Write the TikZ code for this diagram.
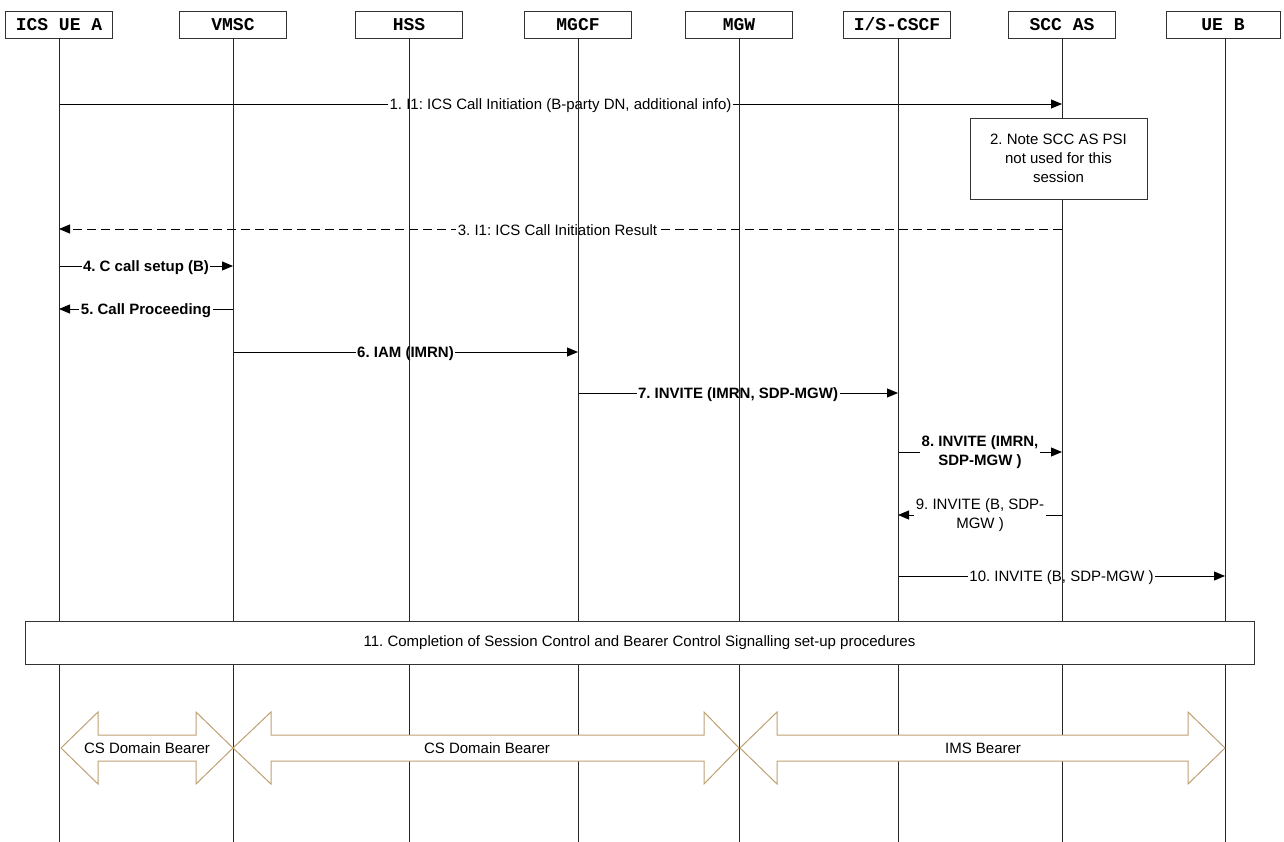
\documentclass[tikz,border=0pt]{standalone}
\usepackage{fontspec}
\setmainfont{Liberation Sans}
\newfontfamily\monob{Liberation Mono}
\usetikzlibrary{arrows.meta}
\frenchspacing
\definecolor{bearer}{RGB}{190,160,115}
\tikzset{
  hdr/.style={draw=black!80, line width=0.9pt, minimum width=107pt, minimum height=27pt, inner sep=0pt, font=\monob\bfseries\fontsize{18}{20}\selectfont, fill=white},
  life/.style={draw=black!85, line width=0.9pt},
  msg/.style={draw=black, line width=0.9pt, -{Triangle[length=11pt,width=9pt]}},
  dmsg/.style={msg, dash pattern=on 9pt off 5pt},
  lbl/.style={fill=white, inner sep=1.5pt, font=\frenchspacing\fontsize{15}{19}\selectfont, align=center},
  blbl/.style={lbl, font=\frenchspacing\bfseries\fontsize{15}{19}\selectfont},
  notebox/.style={draw=black!80, line width=0.9pt, fill=white, inner sep=0pt, align=center, font=\frenchspacing\fontsize{15}{19}\selectfont},
  bear/.style={draw=bearer, line width=1pt, fill=white},
  btxt/.style={font=\frenchspacing\fontsize{15}{16}\selectfont, inner sep=0pt}
}
\begin{document}
\begin{tikzpicture}[x=1pt,y=-1pt]
\useasboundingbox (0,0) rectangle (1284,842);
% headers
\node[hdr] (hA) at (59,24.5) {ICS UE A};
\node[hdr] (hV) at (233,24.5) {VMSC};
\node[hdr] (hH) at (409,24.5) {HSS};
\node[hdr] (hM) at (578,24.5) {MGCF};
\node[hdr] (hG) at (739,24.5) {MGW};
\node[hdr] (hI) at (897,24.5) {I/S-CSCF};
\node[hdr] (hS) at (1062,24.5) {SCC AS};
\node[hdr, minimum width=114pt] (hB) at (1223,24.5) {UE B};
% message end points
\coordinate (a1) at (59,104);  \coordinate (s1) at (1062,104);
\coordinate (s3) at (1062,229); \coordinate (a3) at (59,229);
\coordinate (a4) at (59,266);  \coordinate (v4) at (233,266);
\coordinate (v5) at (233,309); \coordinate (a5) at (59,309);
\coordinate (v6) at (233,352); \coordinate (m6) at (578,352);
\coordinate (m7) at (578,393); \coordinate (i7) at (898,393);
\coordinate (i8) at (898,452); \coordinate (s8) at (1062,452);
\coordinate (s9) at (1062,515); \coordinate (i9) at (898,515);
\coordinate (i10) at (898,576); \coordinate (b10) at (1225,576);
% messages
\draw[msg] (a1) -- node[lbl, midway, yshift=-1.5pt] {1. I1: ICS Call Initiation (B-party DN, additional info)} (s1);
\draw[dmsg] (s3) -- node[lbl, midway, xshift=-3pt, yshift=-1.5pt] {3. I1: ICS Call Initiation Result} (a3);
\draw[msg] (a4) -- node[blbl, midway, yshift=-1.5pt] {4. C call setup (B)} (v4);
\draw[msg] (v5) -- node[blbl, midway, yshift=-1.5pt] {5. Call Proceeding} (a5);
\draw[msg] (v6) -- node[blbl, midway, yshift=-1.5pt] {6. IAM (IMRN)} (m6);
\draw[msg] (m7) -- node[blbl, midway, yshift=-1.5pt] {7. INVITE (IMRN, SDP-MGW)} (i7);
\draw[msg] (i8) -- node[blbl, midway, yshift=-0.5pt] {8. INVITE (IMRN,\\SDP-MGW )} (s8);
\draw[msg] (s9) -- node[lbl, midway] {9. INVITE (B, SDP-\\MGW )} (i9);
\draw[msg] (i10) -- node[lbl, midway, yshift=-1.5pt] {10. INVITE (B, SDP-MGW )} (b10);
% lifelines
\coordinate (eA) at (59,842);  \coordinate (eV) at (233,842);
\coordinate (eH) at (409,842); \coordinate (eM) at (578,842);
\coordinate (eG) at (739,842); \coordinate (eI) at (898,842);
\coordinate (eS) at (1062,842); \coordinate (eB) at (1225,842);
\draw[life] (hA.south -| eA) -- (eA);
\draw[life] (hV.south -| eV) -- (eV);
\draw[life] (hH.south -| eH) -- (eH);
\draw[life] (hM.south -| eM) -- (eM);
\draw[life] (hG.south -| eG) -- (eG);
\draw[life] (hI.south -| eI) -- (eI);
\draw[life] (hS.south -| eS) -- (eS);
\draw[life] (hB.south -| eB) -- (eB);
% boxes
\node[notebox, minimum width=177pt, minimum height=81pt] (n2) at (1058.5,158.5) {2. Note SCC AS PSI\\not used for this\\session};
\node[notebox, minimum width=1229pt, minimum height=43pt] (n11) at (639.5,642.5) {11. Completion of Session Control and Bearer Control Signalling set-up procedures};
% bearers
\draw[bear] (61,748) -- (98,712) -- (98,735) -- (196,735) -- (196,712) -- (233,748) -- (196,784) -- (196,761) -- (98,761) -- (98,784) -- cycle;
\node[btxt] (t1) at (147,748) {CS Domain Bearer};
\draw[bear] (233,748) -- (271,712) -- (271,735) -- (704,735) -- (704,712) -- (739,748) -- (704,784) -- (704,761) -- (271,761) -- (271,784) -- cycle;
\node[btxt] (t2) at (487,748) {CS Domain Bearer};
\draw[bear] (740,748) -- (777,712) -- (777,735) -- (1188,735) -- (1188,712) -- (1225,748) -- (1188,784) -- (1188,761) -- (777,761) -- (777,784) -- cycle;
\node[btxt] (t3) at (983,748) {IMS Bearer};
\end{tikzpicture}
\end{document}
